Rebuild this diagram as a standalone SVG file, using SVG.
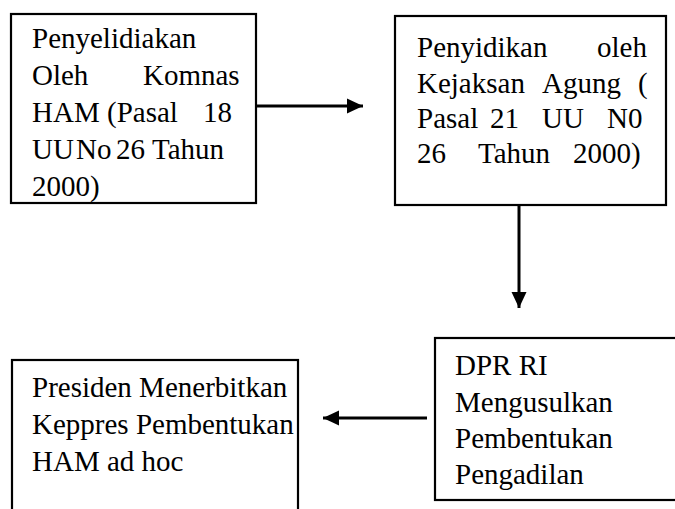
<svg xmlns="http://www.w3.org/2000/svg" width="675" height="509" viewBox="0 0 675 509">
<style>
.box{fill:#fff;stroke:#000;stroke-width:2.2}
.t{font-family:"Liberation Serif","Times New Roman",serif;font-size:29px;fill:#000}
.conn{stroke:#000;stroke-width:3;fill:none}
</style>
<defs>
<marker id="ah" markerUnits="userSpaceOnUse" markerWidth="17" markerHeight="16" refX="16" refY="8" orient="auto">
<polygon points="0,0.5 16,8 0,15.5" fill="#000"/>
</marker>
</defs>
<rect width="675" height="509" fill="#fff"/>
<g id="node-komnas">
<rect class="box" x="11" y="14" width="245" height="189"/>
<text class="t"><tspan x="32" y="48">Penyelidiakan</tspan><tspan x="32" y="85">Oleh</tspan><tspan x="143" y="85">Komnas</tspan><tspan x="32" y="122">HAM</tspan><tspan x="107" y="122">(Pasal</tspan><tspan x="203" y="122">18</tspan><tspan x="32" y="159">UU</tspan><tspan x="76" y="159">No</tspan><tspan x="116" y="159">26</tspan><tspan x="152" y="159">Tahun</tspan><tspan x="32" y="196">2000)</tspan></text>
</g>
<g id="node-kejaksaan">
<rect class="box" x="395" y="16" width="271" height="189"/>
<text class="t"><tspan x="417" y="57">Penyidikan</tspan><tspan x="597" y="57">oleh</tspan><tspan x="417" y="93">Kejaksan</tspan><tspan x="542" y="93">Agung</tspan><tspan x="638" y="93">(</tspan><tspan x="417" y="128">Pasal</tspan><tspan x="490" y="128">21</tspan><tspan x="542" y="128">UU</tspan><tspan x="607" y="128">N0</tspan><tspan x="417" y="163">26</tspan><tspan x="478" y="163">Tahun</tspan><tspan x="573" y="163">2000)</tspan></text>
</g>
<g id="node-dpr">
<rect class="box" x="435" y="338" width="250" height="162"/>
<text class="t"><tspan x="455" y="375">DPR RI</tspan><tspan x="455" y="412">Mengusulkan</tspan><tspan x="455" y="448">Pembentukan</tspan><tspan x="455" y="484">Pengadilan</tspan></text>
</g>
<g id="node-presiden">
<rect class="box" x="12" y="360" width="286" height="170"/>
<text class="t"><tspan x="32" y="397">Presiden Menerbitkan</tspan><tspan x="32" y="434">Keppres Pembentukan</tspan><tspan x="32" y="471">HAM ad hoc</tspan></text>
</g>
<g id="connectors">
<line class="conn" x1="257" y1="106" x2="363" y2="106" marker-end="url(#ah)"/>
<line class="conn" x1="519" y1="205" x2="519" y2="308" marker-end="url(#ah)"/>
<line class="conn" x1="427" y1="418" x2="323" y2="418" marker-end="url(#ah)"/>
</g>
</svg>
